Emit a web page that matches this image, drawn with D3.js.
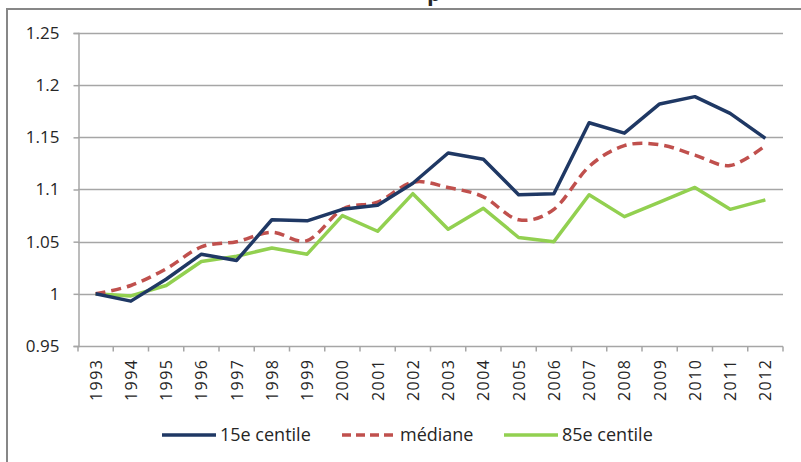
<!DOCTYPE html>
<html>
<head>
<meta charset="utf-8">
<script src="https://cdn.jsdelivr.net/npm/d3@7"></script>
<style>
  html, body { margin: 0; padding: 0; background: #fff; }
  svg { display: block; }
  text { font-family: "Open Sans", "DejaVu Sans", sans-serif; fill: #262626; }
</style>
</head>
<body>
<svg id="chart" width="801" height="462"></svg>
<script>
const years = ["1993","1994","1995","1996","1997","1998","1999","2000","2001","2002",
               "2003","2004","2005","2006","2007","2008","2009","2010","2011","2012"];
const p15 = [1.000,0.993,1.014,1.038,1.032,1.071,1.070,1.081,1.085,1.106,
             1.135,1.129,1.095,1.096,1.164,1.154,1.182,1.189,1.173,1.149];
const median = [1.000,1.008,1.024,1.045,1.050,1.059,1.051,1.081,1.088,1.107,
                1.102,1.093,1.071,1.081,1.122,1.142,1.143,1.133,1.123,1.142];
const p85 = [1.000,0.998,1.008,1.031,1.036,1.044,1.038,1.075,1.060,1.096,
             1.062,1.082,1.054,1.050,1.095,1.074,1.088,1.102,1.081,1.090];
const yTicks = [0.95, 1, 1.05, 1.1, 1.15, 1.2, 1.25];
const seriesNames = ["15e centile", "médiane", "85e centile"];
const titleFragment = "p";

const svg = d3.select("#chart");
const plot = { left: 78, right: 783, top: 33, bottom: 346 };

// outer frame (partially visible)
svg.append("rect")
  .attr("x", 7).attr("y", 9)
  .attr("width", 900).attr("height", 600)
  .attr("fill", "none").attr("stroke", "#878787").attr("stroke-width", 2);

// title glyph, clipped by the top edge as in the reference
svg.append("text")
  .attr("x", 427).attr("y", 1)
  .attr("font-size", 22).attr("font-weight", "bold")
  .attr("fill", "#111")
  .text(titleFragment);

const x = d3.scaleBand().domain(years).range([plot.left, plot.right]).padding(0);
const y = d3.scaleLinear().domain([0.95, 1.25]).range([plot.bottom, plot.top]);

// gridlines
svg.append("g").selectAll("line").data(yTicks.slice(1)).join("line")
  .attr("x1", plot.left).attr("x2", plot.right)
  .attr("y1", d => Math.round(y(d)) + 0.5).attr("y2", d => Math.round(y(d)) + 0.5)
  .attr("stroke", "#a6a6a6").attr("stroke-width", 1.5);

// y axis
const yAxis = svg.append("g")
  .attr("transform", `translate(${plot.left + 0.5},0)`)
  .call(d3.axisLeft(y).tickValues(yTicks).tickSize(5).tickPadding(14)
        .tickFormat(d => String(+d.toFixed(2))));
yAxis.select(".domain").attr("stroke", "#a6a6a6").attr("stroke-width", 1.5);
yAxis.selectAll(".tick line").attr("stroke", "#a6a6a6").attr("stroke-width", 1.5);
yAxis.selectAll(".tick text")
  .attr("font-size", 17).attr("fill", "#262626")
  .attr("font-family", "\"Open Sans\", sans-serif");

// x axis
const xAxisG = svg.append("g")
  .attr("transform", `translate(0,${Math.round(plot.bottom) + 0.5})`);
xAxisG.append("line")
  .attr("x1", plot.left).attr("x2", plot.right)
  .attr("stroke", "#a6a6a6").attr("stroke-width", 1.5);
const bounds = years.map(d => x(d)).concat([x(years[years.length - 1]) + x.bandwidth()]);
xAxisG.selectAll("line.tk").data(bounds).join("line").attr("class", "tk")
  .attr("x1", d => d).attr("x2", d => d).attr("y1", 0).attr("y2", 5)
  .attr("stroke", "#a6a6a6").attr("stroke-width", 1.5);
xAxisG.selectAll("text").data(years).join("text")
  .attr("transform", d => `translate(${x(d) + x.bandwidth() / 2 + 6},12) rotate(-90)`)
  .attr("text-anchor", "end")
  .attr("font-size", 16)
  .attr("letter-spacing", 1.5)
  .text(d => d);

// lines
const lineStraight = d3.line()
  .x((d, i) => x(years[i]) + x.bandwidth() / 2)
  .y(d => y(d));
const lineSmooth = d3.line()
  .x((d, i) => x(years[i]) + x.bandwidth() / 2)
  .y(d => y(d))
  .curve(d3.curveCatmullRom.alpha(0));

const styles = [
  { data: p85, color: "#92D050", dash: null, gen: lineStraight },
  { data: median, color: "#C0504D", dash: "10,6", gen: lineSmooth },
  { data: p15, color: "#1F3864", dash: null, gen: lineStraight }
];
styles.forEach(s => {
  svg.append("path")
    .datum(s.data)
    .attr("d", s.gen)
    .attr("fill", "none")
    .attr("stroke", s.color)
    .attr("stroke-width", 3.5)
    .attr("stroke-linejoin", "round")
    .attr("stroke-dasharray", s.dash);
});

// legend
const legendItems = [
  { name: seriesNames[0], color: "#1F3864", dash: null, x0: 162 },
  { name: seriesNames[1], color: "#C0504D", dash: "9,5", x0: 342 },
  { name: seriesNames[2], color: "#92D050", dash: null, x0: 504 }
];
const ly = 435;
legendItems.forEach(it => {
  svg.append("line")
    .attr("x1", it.x0).attr("x2", it.x0 + 54)
    .attr("y1", ly).attr("y2", ly)
    .attr("stroke", it.color).attr("stroke-width", 3.5)
    .attr("stroke-dasharray", it.dash);
  svg.append("text")
    .attr("x", it.x0 + 58).attr("y", ly)
    .attr("dy", "0.35em")
    .attr("font-size", 18)
    .text(it.name);
});
</script>
</body>
</html>
